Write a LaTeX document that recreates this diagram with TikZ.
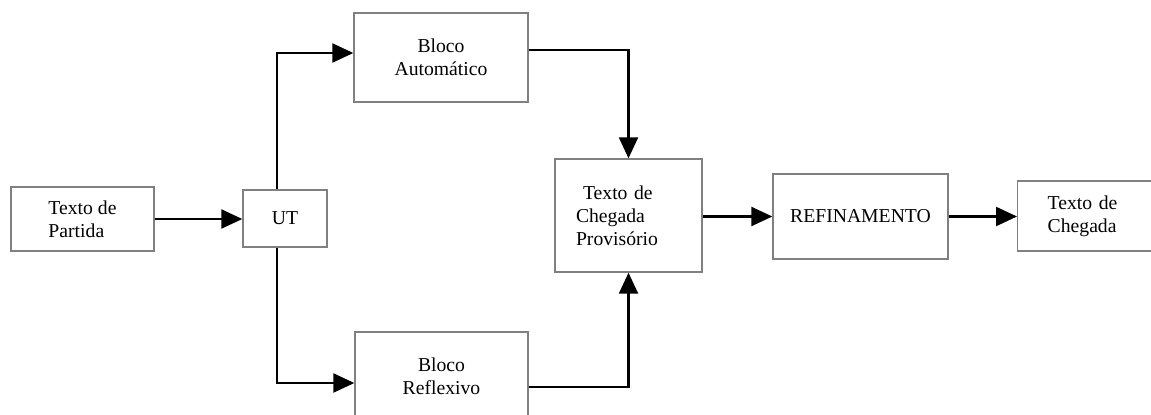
\documentclass[tikz,border=0pt]{standalone}
\usepackage{fontspec}
\setmainfont{Liberation Serif}
\usetikzlibrary{arrows.meta,calc}
\begin{document}
\begin{tikzpicture}[x=0.02cm,y=-0.02cm,
  box/.style={draw=black!50,line width=0.8pt,fill=white,inner sep=0pt,
    font=\fontsize{11.2}{13.2}\selectfont},
  conn/.style={line width=1.3pt,-{Triangle[length=0.42cm,width=0.38cm]}},
  plain/.style={line width=1.3pt}]
\useasboundingbox (0,0) rectangle (1151,415);
\clip (0,0) rectangle (1151,415);
\fill[white] (0,0) rectangle (1151,415);
\node[box,minimum width=2.86cm,minimum height=1.28cm,align=left] (tp) at (82.5,219) {Texto de\\Partida};
\node[box,minimum width=1.68cm,minimum height=1.14cm] (ut) at (285,218.5) {UT};
\node[box,minimum width=3.48cm,minimum height=1.78cm,align=center] (ba) at (441,57.5) {Bloco\\Automático};
\node[box,minimum width=3.46cm,minimum height=1.76cm,align=center] (br) at (441.5,376) {Bloco\\Reflexivo};
\node[box,minimum height=2.26cm,text width=2.1cm,inner xsep=0.42cm,align=left] (tcp) at (628.5,215.5) {\hspace{0.14cm}Texto de\\Chegada\\Provisório};
\node[box,minimum width=3.5cm,minimum height=1.7cm] (ref) at (860.5,216.5) {REFINAMENTO};
\node[box,anchor=west,minimum height=1.4cm,text width=1.76cm,inner xsep=0.6cm,align=left] (tc) at (1017,216) {Texto de\\Chegada};
\coordinate (v) at (277,0);
\draw[conn] (tp.east) -- (tp.east -| ut.west);
\draw[conn] (ut.north -| v) |- ($(ba.west)+(0,-4.5)$);
\draw[conn] (ut.south -| v) |- ($(br.west)+(0,7)$);
\draw[conn] ($(ba.east)+(0,-7.5)$) -| (tcp.north);
\draw[conn] ($(br.east)+(0,11)$) -| (tcp.south);
\draw[conn] (tcp.east |- ref.west) -- (ref.west);
\draw[conn] (ref.east) -- (ref.east -| tc.west);
\end{tikzpicture}
\end{document}
